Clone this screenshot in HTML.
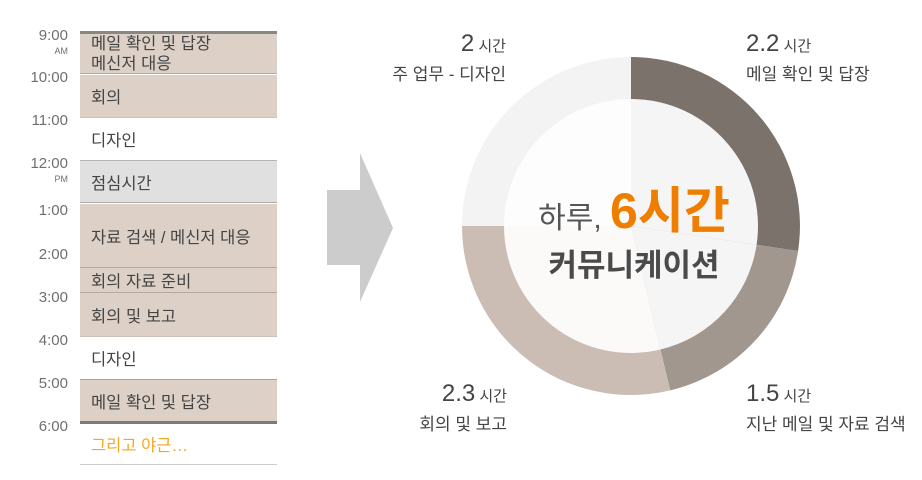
<!DOCTYPE html>
<html><head><meta charset="utf-8"><style>
body{margin:0;width:922px;height:480px;background:#fff;overflow:hidden;font-family:"Liberation Sans","Noto Sans CJK KR",sans-serif;position:relative}
.t{position:absolute;right:854px;font-size:15px;color:#6f6f6f;line-height:1}
.s{position:absolute;right:854px;font-size:9px;color:#6f6f6f}
.r{position:absolute;left:80px;width:197px;box-sizing:border-box;padding-left:11px;font-size:16.5px;color:#444;display:flex;align-items:center}
.b{background:#dcd0c7}
</style></head><body>
<div class="t" style="top:28px">9:00</div><div class="s" style="top:46px">AM</div>
<div class="t" style="top:70px">10:00</div>
<div class="t" style="top:113px">11:00</div>
<div class="t" style="top:156px">12:00</div><div class="s" style="top:174px">PM</div>
<div class="t" style="top:203px">1:00</div>
<div class="t" style="top:247px">2:00</div>
<div class="t" style="top:290px">3:00</div>
<div class="t" style="top:333px">4:00</div>
<div class="t" style="top:376px">5:00</div>
<div class="t" style="top:419px">6:00</div>

<div class="r b" style="top:31px;height:43px;border-top:3px solid #8a8682;border-bottom:1px solid #b4aaa3;line-height:20px;align-items:flex-start;padding-top:0">메일 확인 및 답장<br>메신저 대응</div>
<div class="r b" style="top:75px;height:43px;border-bottom:1px solid #c9c2bd">회의</div>
<div class="r" style="top:118px;height:42px">디자인</div>
<div class="r" style="top:160px;height:43px;background:#e0e0e0;border-top:1px solid #b5b5b5;border-bottom:1px solid #b0aaa6">점심시간</div>
<div class="r b" style="top:204px;height:63px">자료 검색 / 메신저 대응</div>
<div class="r b" style="top:267px;height:26px;border-top:1px solid #b4aaa3;border-bottom:1px solid #b4aaa3">회의 자료 준비</div>
<div class="r b" style="top:293px;height:44px;border-bottom:1px solid #c9c2bd">회의 및 보고</div>
<div class="r" style="top:337px;height:42px">디자인</div>
<div class="r b" style="top:379px;height:45px;border-top:1px solid #aaa39e;border-bottom:3px solid #7e7a77">메일 확인 및 답장</div>
<div class="r" style="top:424px;height:41px;color:#f5a623;border-bottom:1px solid #ccc">그리고 야근…</div>

<svg width="922" height="480" style="position:absolute;left:0;top:0">
<polygon points="327,190 360,190 360,153 393,228 360,302 360,265 327,265" fill="#cccccc"/>
<path d="M631,226 L631,57 A169,169 0 0 1 798.1,251 Z" fill="#7b726b"/>
<path d="M631,226 L798.1,251 A169,169 0 0 1 670.2,390.4 Z" fill="#a1978e"/>
<path d="M631,226 L670.2,390.4 A169,169 0 0 1 462,226 Z" fill="#cbbdb4"/>
<path d="M631,226 L462,226 A169,169 0 0 1 631,57 Z" fill="#f3f3f3"/>
<path d="M631,226 L631,99 A127,127 0 0 1 756.6,244.8 Z" fill="#f5f5f5"/>
<path d="M631,226 L756.6,244.8 A127,127 0 0 1 660.4,349.5 Z" fill="#f6f5f5"/>
<path d="M631,226 L660.4,349.5 A127,127 0 0 1 504,226 Z" fill="#fbfaf9"/>
<path d="M631,226 L504,226 A127,127 0 0 1 631,99 Z" fill="#fdfdfd"/>
<g font-family="Liberation Sans, Noto Sans CJK KR, sans-serif" fill="#444">
<text x="506" y="51" text-anchor="end"><tspan font-size="24">2</tspan><tspan font-size="15"> 시간</tspan></text>
<text x="506" y="80" text-anchor="end" font-size="17">주 업무 - 디자인</text>
<text x="746" y="51"><tspan font-size="24">2.2</tspan><tspan font-size="15"> 시간</tspan></text>
<text x="746" y="80" font-size="17">메일 확인 및 답장</text>
<text x="507" y="401" text-anchor="end"><tspan font-size="24">2.3</tspan><tspan font-size="15"> 시간</tspan></text>
<text x="507" y="430" text-anchor="end" font-size="17">회의 및 보고</text>
<text x="746" y="401"><tspan font-size="24">1.5</tspan><tspan font-size="15"> 시간</tspan></text>
<text x="746" y="430" font-size="17">지난 메일 및 자료 검색</text>
<text x="634" y="228" text-anchor="middle"><tspan font-size="30" fill="#555">하루, </tspan><tspan font-size="50" font-weight="bold" fill="#ee7d00">6시간</tspan></text>
<text x="634" y="276" text-anchor="middle" font-size="31" font-weight="bold" fill="#4a4a4a">커뮤니케이션</text>
</g>
</svg>
</body></html>
